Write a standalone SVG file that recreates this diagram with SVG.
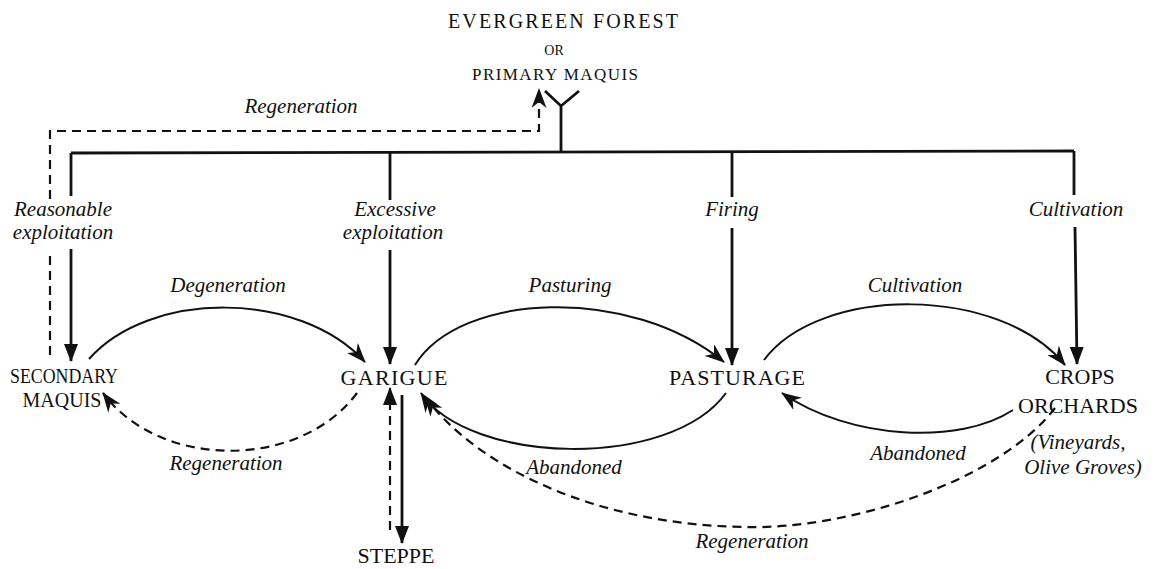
<svg xmlns="http://www.w3.org/2000/svg" width="1154" height="569" viewBox="0 0 1154 569">
<style>
.s{fill:none;stroke:#111;stroke-width:2.8}
.c{fill:none;stroke:#111;stroke-width:2}
.d{fill:none;stroke:#111;stroke-width:2.2;stroke-dasharray:9 6}
.n{font-family:"Liberation Serif",serif;font-size:22px;fill:#111;text-anchor:middle}
.i{font-family:"Liberation Serif",serif;font-style:italic;font-size:21px;fill:#111;text-anchor:middle}
</style>
<defs>
<marker id="ah" markerUnits="userSpaceOnUse" markerWidth="18" markerHeight="14" refX="17" refY="7" orient="auto">
<path d="M0,0 L18,7 L0,14 z" fill="#111"/>
</marker>
<marker id="bh" markerUnits="userSpaceOnUse" markerWidth="20" markerHeight="15" refX="19" refY="7.5" orient="auto">
<path d="M0,0 L20,7.5 L0,15 L6,7.5 z" fill="#111"/>
</marker>
</defs>
<rect width="1154" height="569" fill="#fff"/>

<g id="connectors">
<path class="s" d="M545,91 L561,106 L579,91 M561,106 L561,152"/>
<path class="s" d="M71,153 L1074,151"/>
<path class="s" d="M71,153 L71,196"/>
<path class="s" d="M71,249 L71,361" marker-end="url(#ah)"/>
<path class="s" d="M390,152 L390,200"/>
<path class="s" d="M390,250 L390,364" marker-end="url(#ah)"/>
<path class="s" d="M732,152 L732,197"/>
<path class="s" d="M732,228 L732,365" marker-end="url(#ah)"/>
<path class="s" d="M1074,151 L1074,195"/>
<path class="s" d="M1075,227 L1077,364" marker-end="url(#ah)"/>
<path class="d" d="M50,355 L50,250"/>
<path class="d" d="M50,199 L50,131 L539,131 L539,89" marker-end="url(#bh)"/>
<path class="c" d="M89,359 C150,290 300,290 365,362" marker-end="url(#bh)"/>
<path class="d" d="M357,393 C300,470 160,470 103,393" marker-end="url(#bh)"/>
<path class="c" d="M415,365 C460,292 630,285 724,362" marker-end="url(#bh)"/>
<path class="c" d="M726,393 C670,470 470,465 421,393" marker-end="url(#bh)"/>
<path class="c" d="M764,360 C820,285 1000,285 1065,365" marker-end="url(#bh)"/>
<path class="c" d="M1013,410 C960,445 850,440 782,393" marker-end="url(#bh)"/>
<path class="d" d="M1055,408 C1000,480 850,530 745,527 C600,525 480,470 425,397" marker-end="url(#bh)"/>
<path class="d" d="M390,530 L390,388" marker-end="url(#ah)"/>
<path class="s" d="M402,395 L402,543" marker-end="url(#ah)"/>
</g>

<g id="labels">
<text class="i" x="301" y="113">Regeneration</text>
<text class="i" x="63" y="216">Reasonable</text>
<text class="i" x="63" y="239">exploitation</text>
<text class="i" x="395" y="216">Excessive</text>
<text class="i" x="393" y="239">exploitation</text>
<text class="i" x="732" y="216">Firing</text>
<text class="i" x="1076" y="216">Cultivation</text>
<text class="i" x="228" y="292">Degeneration</text>
<text class="i" x="570" y="292">Pasturing</text>
<text class="i" x="915" y="292">Cultivation</text>
<text class="i" x="226" y="470">Regeneration</text>
<text class="i" x="574" y="474">Abandoned</text>
<text class="i" x="918" y="460">Abandoned</text>
<text class="i" x="752" y="548">Regeneration</text>
</g>

<g id="node-primary">
<text class="n" x="448" y="28" style="text-anchor:start;font-size:20px" textLength="230" lengthAdjust="spacing">EVERGREEN FOREST</text>
<text class="n" x="554" y="55" style="font-size:14px">OR</text>
<text class="n" x="555" y="80" style="font-size:17px" textLength="166" lengthAdjust="spacing">PRIMARY MAQUIS</text>
</g>
<g id="node-secondary">
<text class="n" x="64" y="383" style="font-size:20px" textLength="108" lengthAdjust="spacingAndGlyphs">SECONDARY</text>
<text class="n" x="62" y="407" style="font-size:20px">MAQUIS</text>
</g>
<g id="node-garigue">
<text class="n" x="394" y="385" textLength="107" lengthAdjust="spacing">GARIGUE</text>
</g>
<g id="node-pasturage">
<text class="n" x="737" y="385" textLength="136" lengthAdjust="spacing">PASTURAGE</text>
</g>
<g id="node-crops">
<text class="n" x="1080" y="384">CROPS</text>
<text class="n" x="1078" y="413">ORCHARDS</text>
<text class="i" x="1078" y="449">(Vineyards,</text>
<text class="i" x="1083" y="474">Olive Groves)</text>
</g>
<g id="node-steppe">
<text class="n" x="396" y="563">STEPPE</text>
</g>
</svg>
